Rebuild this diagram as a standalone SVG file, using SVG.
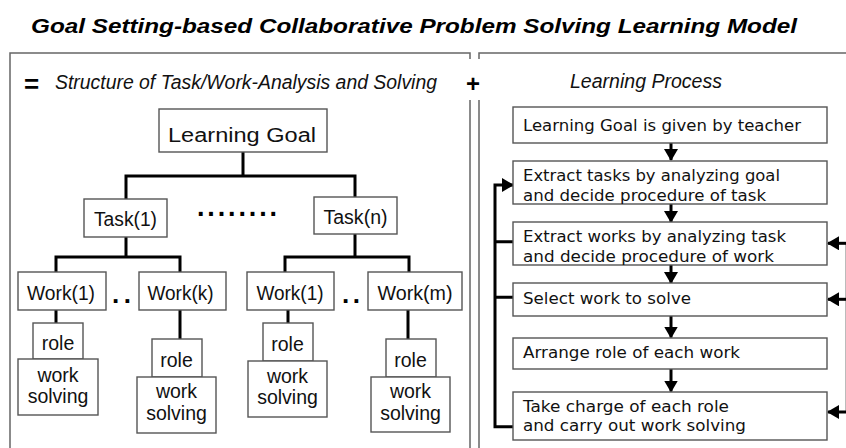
<svg xmlns="http://www.w3.org/2000/svg" width="846" height="448" viewBox="0 0 846 448">
<style>
.bx{fill:#fff;stroke:#555;stroke-width:1.4}
.pn{fill:none;stroke:#666;stroke-width:1.5}
.c{fill:none;stroke:#000;stroke-width:3}
.t{font-family:"Liberation Sans",Arial,sans-serif;font-size:19.5px;fill:#111;text-anchor:middle}
.p{font-family:"DejaVu Sans",Tahoma,sans-serif;font-size:16.5px;fill:#111}
.h{font-family:"Liberation Sans Narrow","Liberation Sans",Arial,sans-serif;font-style:italic;font-size:19.5px;fill:#111}
.d{font-family:"Liberation Sans",Arial,sans-serif;font-weight:bold;fill:#000}
</style>
<defs>
<marker id="ah" markerUnits="userSpaceOnUse" markerWidth="12" markerHeight="14" viewBox="0 0 12 14" refX="11" refY="7" orient="auto">
<path d="M0,0 L12,7 L0,14 Z" fill="#000"/>
</marker>
</defs>
<text x="31" y="32.5" font-family="'Liberation Sans',Arial,sans-serif" font-weight="bold" font-style="italic" font-size="21" textLength="766" lengthAdjust="spacingAndGlyphs" fill="#000">Goal Setting-based Collaborative Problem Solving Learning Model</text>
<g id="panels">
<path class="pn" d="M470,59 V53 H10 V448 M470,100 V448"/>
<path class="pn" d="M479,59 V53 H846 M479,100 V448"/>
<text x="24" y="93" font-family="'Liberation Sans',Arial,sans-serif" font-weight="bold" font-size="26" fill="#000">=</text>
<text x="466" y="92" font-family="'Liberation Sans',Arial,sans-serif" font-weight="bold" font-size="24" fill="#000">+</text>
<text class="h" x="55" y="88.5" textLength="382" lengthAdjust="spacingAndGlyphs">Structure of Task/Work-Analysis and Solving</text>
<text class="h" x="570" y="87.5" textLength="152" lengthAdjust="spacingAndGlyphs">Learning Process</text>
</g>
<g id="connectors">
<path class="c" d="M243,152 V176 M126,199 V176 H355 V197"/>
<path class="c" d="M126,237 V257 M56,272 V257 H180 V272 M355,234 V257 M285,272 V257 H409 V272"/>
<path class="c" d="M56,310 V323 M180,310 V339 M288,310 V323 M408,310 V339"/>
<path class="c" d="M671,143 V160" marker-end="url(#ah)"/>
<path class="c" d="M671,204 V222" marker-end="url(#ah)"/>
<path class="c" d="M671,265 V283" marker-end="url(#ah)"/>
<path class="c" d="M671,316 V337.5" marker-end="url(#ah)"/>
<path class="c" d="M671,369 V391.5" marker-end="url(#ah)"/>
<path class="c" d="M513,426.7 H495 V185 H513" marker-end="url(#ah)"/>
<path class="c" d="M513,241.7 H495 M513,297.3 H495"/>
<path fill="none" stroke="#bbb" stroke-width="1" d="M845.5,243 V412"/>
<path class="c" d="M846,243.3 H828" marker-end="url(#ah)"/>
<path class="c" d="M846,299.3 H828" marker-end="url(#ah)"/>
<path class="c" d="M846,412 H828" marker-end="url(#ah)"/>
</g>
<g id="goal"><rect class="bx" x="159" y="109" width="168" height="43"/><text class="t" x="242" y="141.5" font-size="23.5" textLength="148" lengthAdjust="spacingAndGlyphs">Learning Goal</text></g>
<g id="task1"><rect class="bx" x="84" y="199" width="83" height="38"/><text class="t" x="125.5" y="226" textLength="63" lengthAdjust="spacingAndGlyphs">Task(1)</text></g>
<g id="taskn"><rect class="bx" x="314" y="197" width="83" height="37"/><text class="t" x="355.5" y="224" textLength="64" lengthAdjust="spacingAndGlyphs">Task(n)</text></g>
<text class="d" x="197" y="216" font-size="27" textLength="80" lengthAdjust="spacing">........</text>
<g id="work1a"><rect class="bx" x="18" y="272" width="88" height="38"/><text class="t" x="61" y="299.5" textLength="68" lengthAdjust="spacingAndGlyphs">Work(1)</text></g>
<g id="workk"><rect class="bx" x="139" y="272" width="87" height="38"/><text class="t" x="180.5" y="299.5" textLength="66" lengthAdjust="spacingAndGlyphs">Work(k)</text></g>
<g id="work1b"><rect class="bx" x="247" y="272" width="87" height="38"/><text class="t" x="290" y="299.5" textLength="67" lengthAdjust="spacingAndGlyphs">Work(1)</text></g>
<g id="workm"><rect class="bx" x="368" y="272" width="94" height="38"/><text class="t" x="415" y="299.5" textLength="75" lengthAdjust="spacingAndGlyphs">Work(m)</text></g>
<text class="d" x="112" y="303" font-size="26" textLength="19" lengthAdjust="spacing">..</text>
<text class="d" x="342" y="303" font-size="26" textLength="18" lengthAdjust="spacing">..</text>
<g id="role1a"><rect class="bx" x="33" y="323" width="50" height="36"/><text class="t" x="58" y="349.5">role</text></g>
<g id="solve1a"><rect class="bx" x="18" y="359" width="80" height="56"/><text class="t" x="58" y="381.5">work</text><text class="t" x="58" y="403">solving</text></g>
<g id="rolek"><rect class="bx" x="152" y="339" width="50" height="38"/><text class="t" x="176.5" y="366.5">role</text></g>
<g id="solvek"><rect class="bx" x="137" y="377" width="79" height="56"/><text class="t" x="176.5" y="398">work</text><text class="t" x="176.5" y="420">solving</text></g>
<g id="role1b"><rect class="bx" x="263" y="323" width="50" height="38"/><text class="t" x="287.5" y="350.5">role</text></g>
<g id="solve1b"><rect class="bx" x="248" y="361" width="79" height="56"/><text class="t" x="287.5" y="382.5">work</text><text class="t" x="287.5" y="404">solving</text></g>
<g id="rolem"><rect class="bx" x="386" y="339" width="50" height="38"/><text class="t" x="410.5" y="366.5">role</text></g>
<g id="solvem"><rect class="bx" x="371" y="377" width="79" height="55"/><text class="t" x="410.5" y="398">work</text><text class="t" x="410.5" y="420">solving</text></g>
<g id="step1"><rect class="bx" x="513" y="107" width="314" height="36"/><text class="p" x="523" y="131" textLength="278" lengthAdjust="spacingAndGlyphs">Learning Goal is given by teacher</text></g>
<g id="step2"><rect class="bx" x="513" y="161" width="314" height="43"/><text class="p" x="523" y="181" textLength="257" lengthAdjust="spacingAndGlyphs">Extract tasks by analyzing goal</text><text class="p" x="523" y="200.5" textLength="243" lengthAdjust="spacingAndGlyphs">and decide procedure of task</text></g>
<g id="step3"><rect class="bx" x="513" y="222" width="314" height="43"/><text class="p" x="523" y="242" textLength="263" lengthAdjust="spacingAndGlyphs">Extract works by analyzing task</text><text class="p" x="523" y="261.5" textLength="251" lengthAdjust="spacingAndGlyphs">and decide procedure of work</text></g>
<g id="step4"><rect class="bx" x="513" y="283" width="314" height="33"/><text class="p" x="523" y="304" textLength="168" lengthAdjust="spacingAndGlyphs">Select work to solve</text></g>
<g id="step5"><rect class="bx" x="513" y="338" width="314" height="31"/><text class="p" x="523" y="358" textLength="217" lengthAdjust="spacingAndGlyphs">Arrange role of each work</text></g>
<g id="step6"><rect class="bx" x="513" y="392" width="314" height="48"/><text class="p" x="523" y="411.5" textLength="206" lengthAdjust="spacingAndGlyphs">Take charge of each role</text><text class="p" x="523" y="431" textLength="223" lengthAdjust="spacingAndGlyphs">and carry out work solving</text></g>
</svg>
